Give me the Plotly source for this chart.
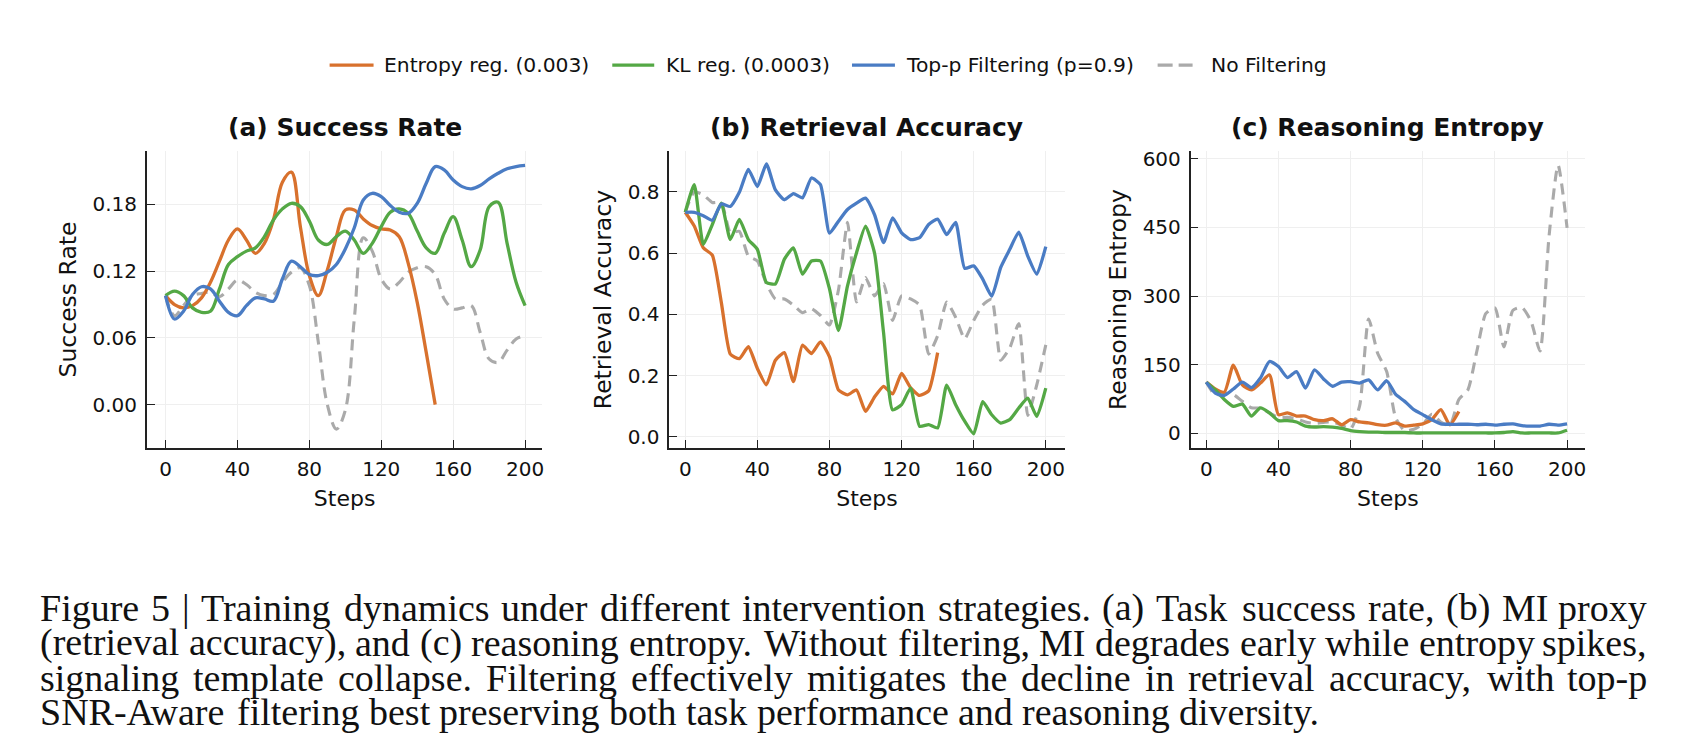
import plotly.graph_objects as go

W, H = 1692, 754

# ---------------- data ----------------
steps = list(range(0, 201, 5))
steps_short = list(range(0, 151, 5))
steps_b_short = list(range(0, 141, 5))

series_names = ["Entropy reg. (0.003)", "KL reg. (0.0003)", "Top-p Filtering (p=0.9)", "No Filtering"]

# (a) Success Rate
sr_entropy = [0.098, 0.090, 0.087, 0.089, 0.096, 0.110, 0.129, 0.148, 0.158, 0.148, 0.136,
              0.145, 0.166, 0.200, 0.209, 0.160, 0.116, 0.098, 0.121, 0.151, 0.175,
              0.175, 0.167, 0.161, 0.158, 0.157, 0.151, 0.127, 0.092, 0.047, 0.000]
sr_kl = [0.098, 0.102, 0.098, 0.087, 0.083, 0.084, 0.104, 0.126, 0.133, 0.138, 0.141,
         0.151, 0.166, 0.176, 0.181, 0.178, 0.165, 0.148, 0.144, 0.151, 0.156,
         0.148, 0.136, 0.145, 0.160, 0.173, 0.176, 0.172, 0.156, 0.141, 0.136,
         0.154, 0.169, 0.148, 0.124, 0.139, 0.178, 0.182, 0.145, 0.110, 0.089]
sr_topp = [0.098, 0.077, 0.084, 0.099, 0.106, 0.104, 0.093, 0.083, 0.080, 0.089, 0.096,
           0.095, 0.093, 0.113, 0.129, 0.124, 0.117, 0.116, 0.119, 0.126, 0.140,
           0.159, 0.184, 0.190, 0.187, 0.179, 0.173, 0.172, 0.181, 0.199, 0.214,
           0.211, 0.202, 0.196, 0.194, 0.197, 0.203, 0.208, 0.212, 0.214, 0.215]
sr_none = [0.098, 0.080, 0.089, 0.098, 0.100, 0.101, 0.097, 0.104, 0.112, 0.108, 0.101,
           0.098, 0.099, 0.110, 0.119, 0.123, 0.107, 0.056, 0.000, -0.022, -0.005,
           0.077, 0.150, 0.138, 0.113, 0.104, 0.110, 0.119, 0.123, 0.124, 0.117,
           0.095, 0.086, 0.087, 0.089, 0.065, 0.041, 0.038, 0.049, 0.059, 0.062]

# (b) Retrieval Accuracy
ra_entropy = [0.733, 0.688, 0.617, 0.593, 0.439, 0.270, 0.255, 0.294, 0.223, 0.170, 0.250,
              0.275, 0.180, 0.299, 0.272, 0.310, 0.261, 0.153, 0.137, 0.153, 0.083,
              0.130, 0.165, 0.140, 0.207, 0.160, 0.135, 0.150, 0.275]
ra_kl = [0.733, 0.823, 0.628, 0.693, 0.763, 0.644, 0.710, 0.644, 0.612, 0.504, 0.499,
         0.580, 0.617, 0.531, 0.574, 0.574, 0.483, 0.347, 0.493, 0.601, 0.688,
         0.600, 0.340, 0.088, 0.105, 0.159, 0.034, 0.040, 0.029, 0.169, 0.105,
         0.051, 0.010, 0.115, 0.072, 0.045, 0.056, 0.094, 0.126, 0.067, 0.159]
ra_topp = [0.733, 0.733, 0.722, 0.707, 0.760, 0.752, 0.798, 0.873, 0.817, 0.891, 0.806,
           0.774, 0.794, 0.780, 0.845, 0.823, 0.665, 0.704, 0.742, 0.763, 0.779,
           0.725, 0.634, 0.715, 0.666, 0.644, 0.650, 0.693, 0.711, 0.660, 0.700,
           0.550, 0.558, 0.515, 0.459, 0.553, 0.612, 0.668, 0.590, 0.531, 0.621]
ra_none = [0.733, 0.800, 0.790, 0.765, 0.765, 0.666, 0.671, 0.590, 0.574, 0.500, 0.450,
           0.450, 0.430, 0.405, 0.418, 0.396, 0.365, 0.480, 0.700, 0.440, 0.520,
           0.460, 0.500, 0.380, 0.460, 0.450, 0.430, 0.270, 0.330, 0.440, 0.390,
           0.320, 0.380, 0.430, 0.450, 0.250, 0.290, 0.370, 0.070, 0.170, 0.300]

# (c) Reasoning Entropy
re_entropy = [112, 97, 90, 149, 106, 95, 110, 128, 41, 45, 38,
              38, 30, 28, 32, 19, 30, 25, 23, 19, 18,
              23, 16, 18, 21, 30, 52, 19, 48]
re_kl = [112, 95, 74, 59, 64, 38, 56, 45, 28, 28, 25,
         16, 14, 15, 14, 11, 6, 4, 3, 3, 2,
         2, 2, 1, 1, 1, 1, 1, 1, 1, 1,
         1, 1, 2, 4, 1, 1, 1, 1, 1, 7]
re_topp = [112, 88, 83, 97, 112, 100, 121, 157, 146, 122, 135,
           99, 139, 119, 103, 112, 113, 110, 117, 95, 115,
           85, 70, 52, 41, 30, 21, 20, 20, 20, 19,
           20, 18, 20, 21, 17, 16, 16, 20, 18, 21]
re_none = [112, 84, 88, 85, 70, 56, 55, 45, 35, 35, 32,
           25, 22, 24, 25, 18, 10, 60, 250, 175, 135,
           34, 6, 9, 20, 42, 25, 18, 74, 95, 180,
           262, 274, 189, 269, 275, 245, 180, 431, 586, 449]

caption_lines = [
    "Figure 5 | Training dynamics under different intervention strategies. (a) Task success rate, (b) MI proxy",
    "(retrieval accuracy), and (c) reasoning entropy. Without filtering, MI degrades early while entropy spikes,",
    "signaling template collapse. Filtering effectively mitigates the decline in retrieval accuracy, with top-p",
    "SNR-Aware filtering best preserving both task performance and reasoning diversity.",
]

# ---------------- style ----------------
ORANGE = "#D8712D"
GREEN = "#54A845"
BLUE = "#4A7CC4"
GREY = "#AAAAAA"
SANS = "DejaVu Sans"
SERIF = "Liberation Serif"
TXT = "#111111"

def px_x(p):
    return p / W

def px_y(p):
    return 1 - p / H

fig = go.Figure()

panels = [
    dict(xa="x", ya="y", smooth=1.0,
         data=[(steps_short, sr_entropy), (steps, sr_kl), (steps, sr_topp), (steps, sr_none)]),
    dict(xa="x2", ya="y2", smooth=0.5,
         data=[(steps_b_short, ra_entropy), (steps, ra_kl), (steps, ra_topp), (steps, ra_none)]),
    dict(xa="x3", ya="y3", smooth=0.6,
         data=[(steps_b_short, re_entropy), (steps, re_kl), (steps, re_topp), (steps, re_none)]),
]
colors = [ORANGE, GREEN, BLUE, GREY]
order = [3, 0, 1, 2]  # draw grey first

for pi, p in enumerate(panels):
    for si in order:
        xs, ys = p["data"][si]
        line = dict(color=colors[si], width=3.3, shape="spline", smoothing=p["smooth"])
        if si == 3:
            line["dash"] = "11px,7px"
            line["width"] = 3.1
        fig.add_trace(go.Scatter(
            x=xs, y=ys, mode="lines", line=line, name=series_names[si],
            showlegend=False, xaxis=p["xa"], yaxis=p["ya"],
        ))

# ---------------- axes ----------------
ydom = [px_y(447), px_y(148)]
xdoms = [[px_x(147), px_x(543)], [px_x(670), px_x(1066)], [px_x(1192), px_x(1587)]]
xranges = [[-10.4, 209.6], [-8.9, 210.5], [-8.7, 210.0]]
yranges = [[-0.039, 0.228], [-0.0366, 0.933], [-31.9, 616.7]]
ytickvals = [[0.0, 0.06, 0.12, 0.18], [0.0, 0.2, 0.4, 0.6, 0.8], [0, 150, 300, 450, 600]]
yticktext = [["0.00", "0.06", "0.12", "0.18"], ["0.0", "0.2", "0.4", "0.6", "0.8"],
             ["0", "150", "300", "450", "600"]]
ytitles = ["Success Rate", "Retrieval Accuracy", "Reasoning Entropy"]
titles = ["<b>(a) Success Rate</b>", "<b>(b) Retrieval Accuracy</b>", "<b>(c) Reasoning Entropy</b>"]

common = dict(showline=True, linecolor="#222222", linewidth=1.5, mirror=False,
              ticks="inside", ticklen=8, tickwidth=1.4, tickcolor="#222222",
              showgrid=True, gridcolor="#EFEFEF", gridwidth=1, zeroline=False,
              tickfont=dict(family=SANS, size=20, color=TXT))

for i in range(3):
    xk = "xaxis" if i == 0 else f"xaxis{i+1}"
    yk = "yaxis" if i == 0 else f"yaxis{i+1}"
    anchor_y = "y" if i == 0 else f"y{i+1}"
    anchor_x = "x" if i == 0 else f"x{i+1}"
    fig.layout[xk] = dict(common, domain=xdoms[i], range=xranges[i], anchor=anchor_y,
                          tickvals=[0, 40, 80, 120, 160, 200],
                          title=dict(text="Steps", font=dict(family=SANS, size=22, color=TXT),
                                     standoff=11),
                          ticklabelstandoff=2)
    fig.layout[yk] = dict(common, domain=ydom, range=yranges[i], anchor=anchor_x,
                          tickvals=ytickvals[i], ticktext=yticktext[i],
                          title=dict(text=ytitles[i], font=dict(family=SANS, size=23.5, color=TXT),
                                     standoff=9),
                          ticklabelstandoff=4)
    fig.add_annotation(text=titles[i], xref="paper", yref="paper",
                       x=(xdoms[i][0] + xdoms[i][1]) / 2, y=px_y(124),
                       xanchor="center", yanchor="middle", showarrow=False,
                       font=dict(family=SANS, size=25, color=TXT))

# ---------------- legend (line samples + labels) ----------------
legend_y = 61.5
legend_lines = [(330, 374), (613, 655), (853, 896), (1159, 1194)]
legend_text_x = [382, 665, 905, 1210]
for si in range(4):
    x0, x1 = legend_lines[si]
    fig.add_shape(type="line", xref="paper", yref="paper",
                  x0=px_x(x0), x1=px_x(x1), y0=px_y(legend_y), y1=px_y(legend_y),
                  line=dict(color=colors[si], width=3.3,
                            dash="15px,6px" if si == 3 else "solid"))
    fig.add_annotation(text=series_names[si], xref="paper", yref="paper",
                       x=px_x(legend_text_x[si]), y=px_y(legend_y),
                       xanchor="left", yanchor="middle", showarrow=False,
                       font=dict(family=SANS, size=20.3, color=TXT))

# ---------------- caption (justified, Times-metric font) ----------------
TIMES_W = {" ": 250, "(": 333, ")": 333, ",": 250, "-": 333, ".": 250, "|": 200, "5": 500,
           "A": 722, "F": 556, "I": 333, "M": 889, "N": 722, "R": 667, "S": 556, "T": 611, "W": 944,
           "a": 444, "b": 500, "c": 444, "d": 500, "e": 444, "f": 333, "g": 500, "h": 500,
           "i": 278, "j": 278, "k": 500, "l": 278, "m": 778, "n": 500, "o": 500, "p": 500,
           "q": 500, "r": 333, "s": 389, "t": 278, "u": 500, "v": 500, "w": 722, "x": 500,
           "y": 500, "z": 444}

def tw(s, size):
    return sum(TIMES_W.get(c, 500) for c in s) / 1000.0 * size

CAP_SIZE = 38
cap_left, cap_right = 39, 1650
caption_y = [608, 643, 678, 713]
for li, (t, yy) in enumerate(zip(caption_lines, caption_y)):
    words = t.split(" ")
    widths = [tw(w, CAP_SIZE) for w in words]
    if li < len(caption_lines) - 1:
        gap = (cap_right - cap_left - sum(widths)) / (len(words) - 1)
        gap = max(gap, 0.2 * CAP_SIZE)
    else:
        gap = tw(" ", CAP_SIZE)
    x = cap_left
    for wi, (w, ww) in enumerate(zip(words, widths)):
        last_just = (li < len(caption_lines) - 1) and wi == len(words) - 1
        fig.add_annotation(text=w, xref="paper", yref="paper",
                           x=px_x(cap_right if last_just else x), y=px_y(yy),
                           xanchor="right" if last_just else "left", yanchor="middle",
                           showarrow=False, borderpad=0,
                           font=dict(family=SERIF, size=CAP_SIZE, color=TXT))
        x += ww + gap

fig.update_layout(
    width=W, height=H, margin=dict(l=0, r=0, t=0, b=0),
    paper_bgcolor="white", plot_bgcolor="white",
    showlegend=False,
)

fig.write_html("out.html")
